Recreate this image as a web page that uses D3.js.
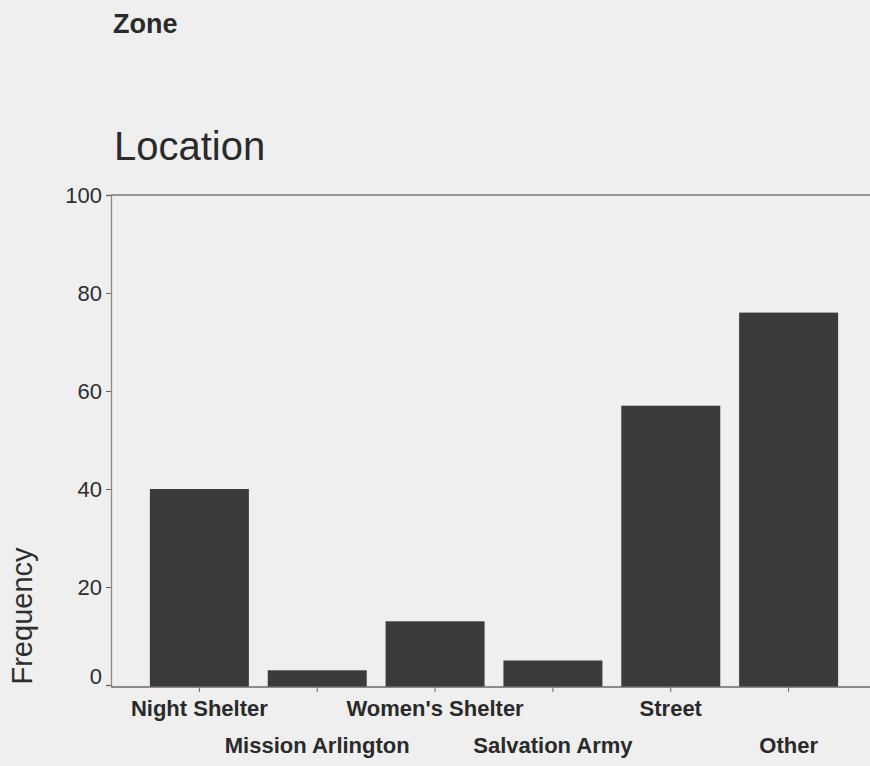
<!DOCTYPE html>
<html>
<head>
<meta charset="utf-8">
<script src="https://cdn.jsdelivr.net/npm/d3@7"></script>
<style>
  html, body { margin: 0; padding: 0; background: #efefef; }
  svg { display: block; }
</style>
</head>
<body>
<script>
const categories = ["Night Shelter", "Mission Arlington", "Women's Shelter", "Salvation Army", "Street", "Other"];
const frequency = [40, 3, 13, 5, 57, 76];
const yTicks = [0, 20, 40, 60, 80, 100];
const chartTitle = "Location";
const panelLabel = "Zone";
const yLabel = "Frequency";

(function () {
const W = 870, H = 766;
const FONT = "'Liberation Sans', Arial, Helvetica, sans-serif";
const svg = d3.select("body").append("svg").attr("width", W).attr("height", H);
svg.append("rect").attr("width", W).attr("height", H).attr("fill", "#efefef");

const mLeft = 111, mTop = 195, mBottom = 685, mRight = 877;

const x = d3.scaleBand().domain(categories).range([mLeft, mRight])
  .paddingInner(0.16).paddingOuter(0.33);
const y = d3.scaleLinear().domain([0, 100]).range([mBottom, mTop]);

// bars
svg.append("g").selectAll("rect").data(categories).join("rect")
  .attr("x", d => x(d))
  .attr("width", x.bandwidth())
  .attr("y", (d, i) => y(frequency[i]))
  .attr("height", (d, i) => y(0) + 2 - y(frequency[i]))
  .attr("fill", "#3b3b3b");

// frame line at top
svg.append("line").attr("x1", mLeft).attr("x2", W).attr("y1", mTop).attr("y2", mTop)
  .attr("stroke", "#7a7a7a").attr("stroke-width", 1.3);

// y axis
const yAxis = d3.axisLeft(y).tickValues(yTicks).tickSize(5).tickPadding(4).tickFormat(d3.format("d"));
const gy = svg.append("g").attr("transform", `translate(${mLeft},0)`).call(yAxis);
gy.select(".domain").attr("stroke", "#8a8a8a").attr("stroke-width", 1.3);
gy.selectAll(".tick line").attr("stroke", "#666");
gy.selectAll(".tick text").attr("font-family", FONT).attr("font-size", 22)
  .attr("fill", "#2e2e2e")
  .attr("dy", d => d === 0 ? "-0.05em" : "0.32em");

// x axis
const xAxis = d3.axisBottom(x).tickSize(5).tickFormat("");
const gx = svg.append("g").attr("transform", `translate(0,${mBottom + 2})`).call(xAxis);
gx.select(".domain").remove();
gx.append("line").attr("x1", mLeft).attr("x2", W).attr("y1", 0).attr("y2", 0)
  .attr("stroke", "#6a6a6a").attr("stroke-width", 1.3);
gx.selectAll(".tick line").attr("stroke", "#666");

// x labels, alternating rows
svg.append("g").selectAll("text").data(categories).join("text")
  .attr("x", d => x(d) + x.bandwidth() / 2)
  .attr("y", (d, i) => i % 2 === 0 ? 716 : 753)
  .attr("text-anchor", "middle")
  .attr("font-family", FONT).attr("font-size", 22).attr("font-weight", "bold")
  .attr("fill", "#2a2a2a")
  .text(d => d);

// title texts
svg.append("text").attr("x", 113).attr("y", 33)
  .attr("font-family", FONT).attr("font-size", 27).attr("font-weight", "bold")
  .attr("fill", "#2a2a2a").text(panelLabel);

svg.append("text").attr("x", 114).attr("y", 160)
  .attr("font-family", FONT).attr("font-size", 40)
  .attr("fill", "#2a2a2a").text(chartTitle);

svg.append("text")
  .attr("transform", "translate(32,616) rotate(-90)")
  .attr("text-anchor", "middle")
  .attr("font-family", FONT).attr("font-size", 29)
  .attr("fill", "#2e2e2e").text(yLabel);
})();
</script>
</body>
</html>
